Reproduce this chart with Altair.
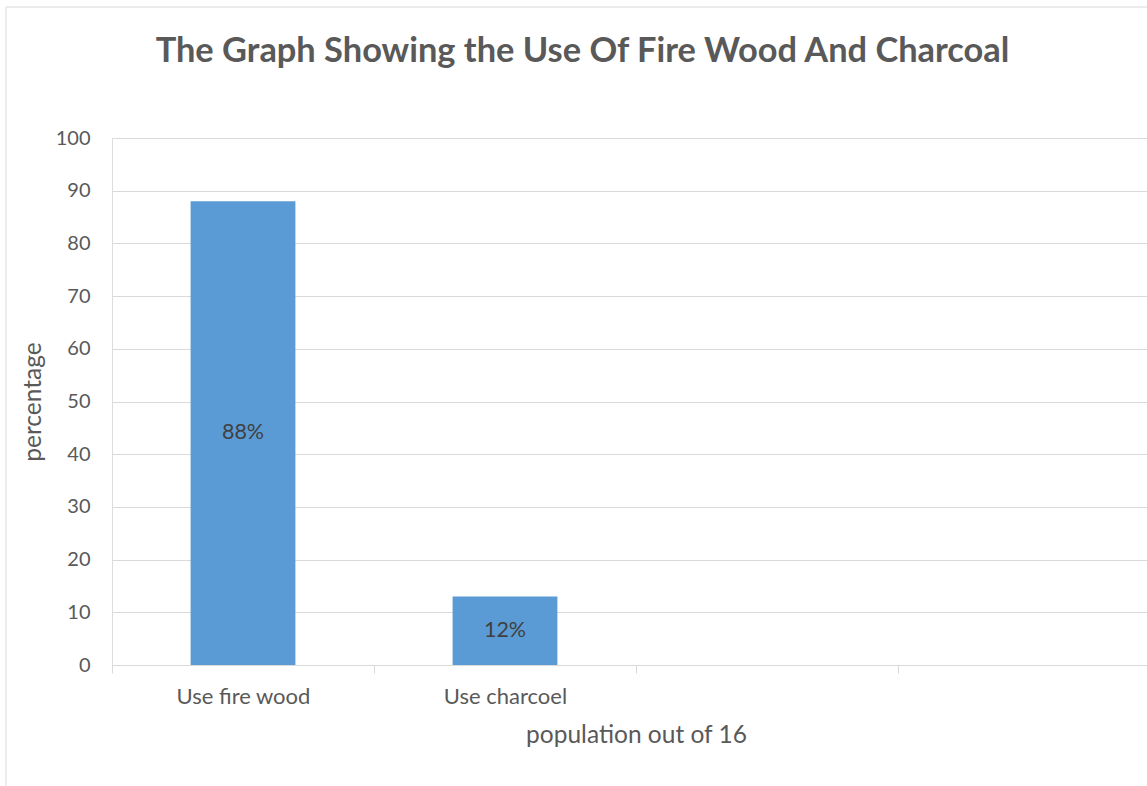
import altair as alt
import pandas as pd

categories = ["Use fire wood", "Use charcoel"]
empty_slots = [" ", "  "]
values = [88, 13]
value_labels = ["88%", "12%"]

title_text = "The Graph Showing the  Use Of Fire Wood And Charcoal"
x_title = "population out of 16"
y_title = "percentage"

FONT = "Lato"
GRAY = "#595959"
GRID = "#D9D9D9"
BAR = "#5B9BD5"

df = pd.DataFrame({"cat": categories, "value": values, "label": value_labels})

W, H = 1035, 527
xscale = alt.Scale(domain=categories + empty_slots, range=[0, 1048], paddingInner=0, paddingOuter=0)

x_enc = alt.X(
    "cat:N",
    scale=xscale,
    axis=alt.Axis(
        title=x_title,
        domain=False,
        ticks=True,
        tickBand="extent",
        tickSize=8,
        tickColor=GRID,
        tickWidth=1,
        labelAngle=0,
        labelFont=FONT,
        labelFontSize=22,
        labelColor=GRAY,
        labelBaseline="alphabetic",
        labelPadding=30,
        titleFont=FONT,
        titleFontSize=24.5,
        titleFontWeight="normal",
        titleColor=GRAY,
        titleX=524,
        titleY=77,
        titleBaseline="alphabetic",
        grid=False,
    ),
)

y_enc = alt.Y(
    "value:Q",
    scale=alt.Scale(domain=[0, 100], nice=False),
    axis=alt.Axis(
        title=y_title,
        values=list(range(0, 101, 10)),
        domain=False,
        ticks=False,
        grid=True,
        gridColor=GRID,
        gridWidth=1,
        labelFont=FONT,
        labelFontSize=20,
        labelColor=GRAY,
        labelPadding=22,
        titleFont=FONT,
        titleFontSize=24.5,
        titleFontWeight="normal",
        titleColor=GRAY,
        titleX=-79,
        titleBaseline="middle",
    ),
)

bars = alt.Chart(df).mark_bar(color=BAR, width=alt.RelativeBandSize(0.4)).encode(x=x_enc, y=y_enc)

texts = (
    alt.Chart(df)
    .transform_calculate(mid="datum.value / 2")
    .mark_text(font=FONT, fontSize=21.5, color="#404040", baseline="middle", align="center")
    .encode(x=alt.X("cat:N", scale=xscale), y=alt.Y("mid:Q", scale=alt.Scale(domain=[0, 100], nice=False)), text="label:N")
)

border = (
    alt.Chart(pd.DataFrame({"k": [0]}))
    .mark_rect(fill="transparent", stroke=GRID, strokeWidth=1)
    .encode(x=alt.value(-106), y=alt.value(-131), x2=alt.value(1300), y2=alt.value(900))
)

chart = (
    alt.layer(border, bars, texts)
    .properties(
        width=W,
        height=H,
        padding={"left": 112, "top": 138, "right": 0, "bottom": 121},
        autosize=alt.AutoSizeParams(type="none"),
        title=alt.TitleParams(
            text=title_text,
            font=FONT,
            fontSize=34.4,
            fontWeight="bold",
            color=GRAY,
            anchor="middle",
            frame="group",
            baseline="alphabetic",
            dx=-47,
            offset=-90,
        ),
    )
    .configure_view(stroke=None)
    .configure(background="white")
)

chart.save("out.html", embed_options={"renderer": "svg", "actions": False})
